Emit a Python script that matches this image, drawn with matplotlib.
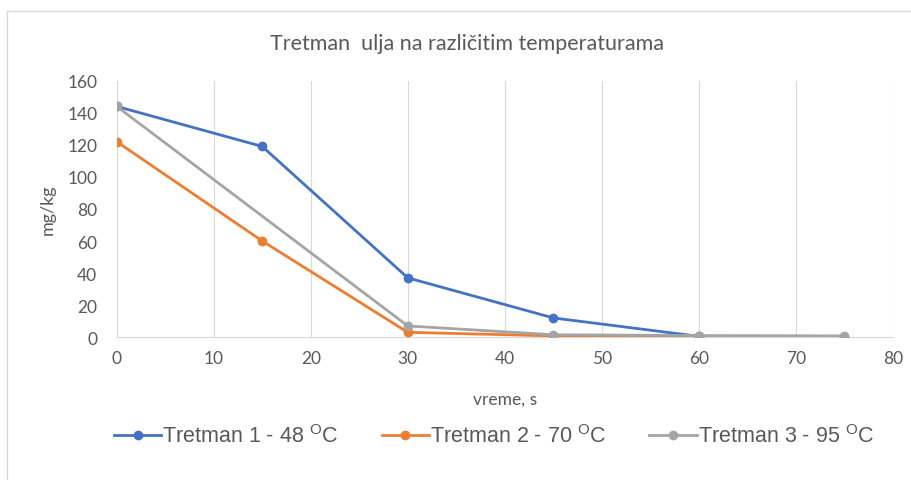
import matplotlib.pyplot as plt
from matplotlib.lines import Line2D

# data
x_t1 = [0, 15, 30, 45, 60]
t1 = [144, 119, 37, 12, 0.5]
x_t2 = [0, 15, 30, 45, 60, 75]
t2 = [122, 60, 3, 0.8, 0.4, 0.3]
x_t3 = [0, 30, 45, 60, 75]
t3 = [144, 7, 1.5, 1.0, 0.8]
labels = [r'Tretman 1 - 48 $^{\mathrm{O}}$C',
          r'Tretman 2 - 70 $^{\mathrm{O}}$C',
          r'Tretman 3 - 95 $^{\mathrm{O}}$C']
colors = ['#4472C4', '#ED7D31', '#A5A5A5']

plt.rcParams['font.family'] = ['Lato', 'DejaVu Sans']
plt.rcParams['mathtext.fontset'] = 'custom'
plt.rcParams['mathtext.rm'] = 'Liberation Sans'
txt = '#595959'

fig = plt.figure(figsize=(9.12, 4.81), dpi=100)
ax = fig.add_axes([0.128, 0.297, 0.851, 0.533])

ax.plot(x_t1, t1, color=colors[0], lw=2, marker='o', ms=6, label=labels[0], zorder=3)
ax.plot(x_t2, t2, color=colors[1], lw=2, marker='o', ms=6, label=labels[1], zorder=3)
ax.plot(x_t3, t3, color=colors[2], lw=2, marker='o', ms=6, label=labels[2], zorder=3)

ax.set_xlim(0, 80)
ax.set_ylim(0, 160)
ax.set_xticks(range(0, 81, 10))
ax.set_yticks(range(0, 161, 20))
ax.grid(axis='x', color='#D9D9D9', lw=0.8)
for s in ['top', 'right']:
    ax.spines[s].set_visible(False)
ax.spines['left'].set_color('#D9D9D9')
ax.spines['bottom'].set_color('#D9D9D9')
ax.tick_params(length=0, labelsize=12.5, labelcolor=txt)
ax.tick_params(axis='y', pad=14)
ax.tick_params(axis='x', pad=9)

fig.text(467 / 912, 1 - 44 / 481, 'Tretman  ulja na različitim temperaturama',
         fontsize=15.5, color=txt, ha='center', va='center')
ax.set_xlabel('vreme, s', fontsize=12.5, color=txt, labelpad=18)
ax.set_ylabel('mg/kg', fontsize=13, color=txt, labelpad=8)

handles = [Line2D([], [], color=c, lw=2, marker='o', ms=6) for c in colors]
fig.legend(handles, labels, loc='center', bbox_to_anchor=(494 / 912, 1 - 437 / 481), ncol=3,
           frameon=False, labelcolor=txt, handlelength=2.2,
           handletextpad=0.05, columnspacing=2.0,
           prop={'family': 'Liberation Sans', 'size': 15.5})

# outer chart border (top and left edges visible)
fig.add_artist(Line2D([7 / 912, 1], [1 - 12 / 481, 1 - 12 / 481], color='#D9D9D9', lw=1))
fig.add_artist(Line2D([7 / 912, 7 / 912], [0, 1 - 12 / 481], color='#D9D9D9', lw=1))

fig.savefig('out.png', dpi=100)
